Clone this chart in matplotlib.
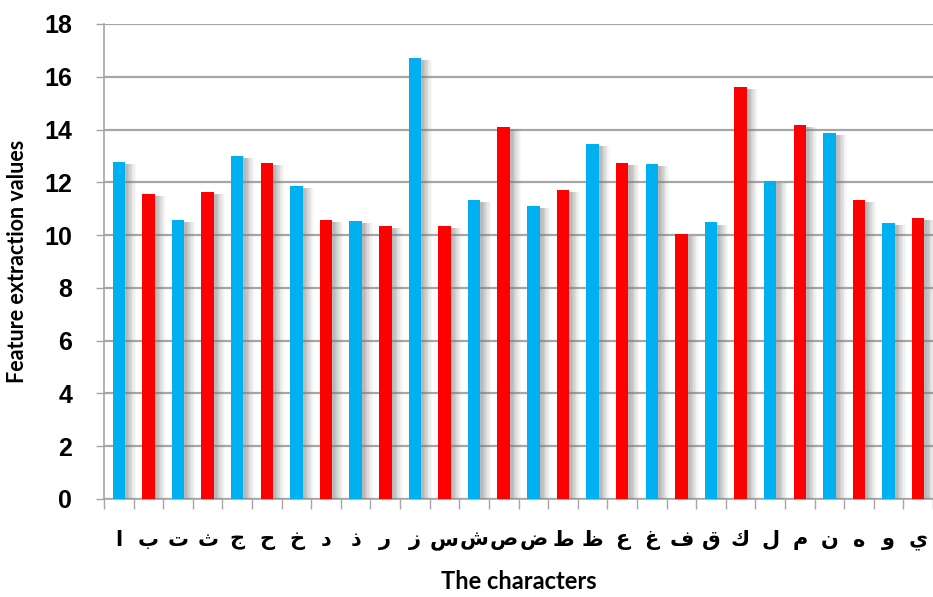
import numpy as np
import matplotlib.pyplot as plt
import matplotlib.patheffects as pe

# Arabic letters and their feature extraction values
letters = ['ا', 'ب', 'ت', 'ث', 'ج', 'ح', 'خ', 'د', 'ذ', 'ر', 'ز', 'س', 'ش', 'ص',
           'ض', 'ط', 'ظ', 'ع', 'غ', 'ف', 'ق', 'ك', 'ل', 'م', 'ن', 'ه', 'و', 'ي']
values = [12.77, 11.55, 10.58, 11.63, 13.0, 12.72, 11.86, 10.58, 10.53, 10.36,
          16.7, 10.36, 11.32, 14.1, 11.09, 11.72, 13.45, 12.72, 12.68, 10.04,
          10.48, 15.6, 12.04, 14.18, 13.87, 11.32, 10.45, 10.64]
colors = ['#00B0F0', '#FF0000']

x = np.arange(len(letters))
bar_colors = [colors[i % 2] for i in range(len(letters))]

fig = plt.figure(figsize=(9.33, 5.97), dpi=100)
ax = fig.add_axes([0.1115, 0.1642, 0.8885, 0.7956])

# soft drop shadow to the right of each bar
shadow = [pe.SimplePatchShadow(offset=(d, -1.5), shadow_rgbFace='#808080', alpha=a)
          for d, a in [(8, 0.05), (7, 0.06), (6, 0.08), (5, 0.1), (4, 0.12),
                       (3, 0.14), (2, 0.14)]]
bars = ax.bar(x, values, width=0.42, color=bar_colors, zorder=3)
for b in bars:
    b.set_path_effects(shadow + [pe.Normal()])

ax.set_xlim(-0.5, len(letters) - 0.5)
ax.set_ylim(0, 18)
ax.set_yticks(np.arange(0, 19, 2))
ax.yaxis.grid(True, color='#A6A6A6', linewidth=1.6, zorder=0)
ax.set_axisbelow(True)

for s in ['top', 'right']:
    ax.spines[s].set_visible(False)
for s in ['left', 'bottom']:
    ax.spines[s].set_color('#A6A6A6')
    ax.spines[s].set_linewidth(1.2)

ax.tick_params(axis='y', length=6, width=1, color='#A6A6A6', pad=17)
for t in ax.get_yticklabels():
    t.set_family('Liberation Sans')
    t.set_fontweight('bold')
    t.set_fontsize(18)

# letters under each bar, tick marks between categories
ax.set_xticks(x)
ax.set_xticklabels(letters, family='DejaVu Sans', fontsize=15, fontweight='bold')
ax.set_xticks(np.arange(-0.5, len(letters), 1), minor=True)
ax.tick_params(axis='x', which='major', length=0, pad=22)
ax.tick_params(axis='x', which='minor', length=7, width=1, color='#A6A6A6')

ax.set_ylabel('Feature extraction values', family='Lato', fontweight='bold',
              fontsize=15.5, labelpad=12)
ax.set_xlabel('The characters', family='Lato', fontweight='bold', fontsize=17,
              labelpad=15)

fig.savefig('out.png', dpi=100)
